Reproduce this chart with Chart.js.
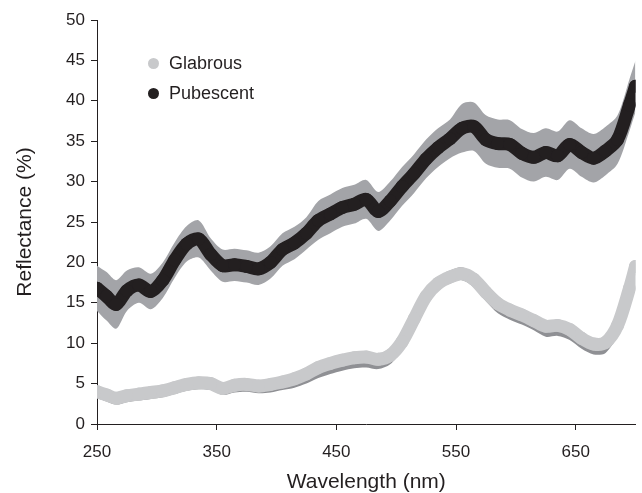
<!DOCTYPE html>
<html lang="en">
<head>
<meta charset="UTF-8">
<title>Reflectance</title>
<script src="https://cdn.jsdelivr.net/npm/chart.js"></script>
<style>
  body { margin: 0; background: #fff; font-family: 'Liberation Sans', Arial, sans-serif; }
  #wrap { position: relative; width: 642px; height: 493px; }
  .legend { position: absolute; left: 148px; height: 20px; font-size: 18px; color: #231f20; display: flex; align-items: center; }
  .legend span.dot { width: 11px; height: 11px; border-radius: 50%; display: inline-block; margin-right: 10px; }
</style>
</head>
<body>
<div id="wrap">
  <canvas id="chart" width="642" height="493"></canvas>
  <div class="legend" style="top:53px"><span class="dot" style="background:#c8c9cb"></span>Glabrous</div>
  <div class="legend" style="top:83px"><span class="dot" style="background:#231f20"></span>Pubescent</div>
</div>
<script>
// wavelength grid (nm)
const wavelengths = [250, 258, 266, 275, 285, 295, 305, 315, 325, 335, 345, 355, 365, 375, 385, 395,
  405, 415, 425, 435, 445, 455, 465, 475, 485, 495, 505, 515, 525, 535, 545, 555, 565, 575, 585,
  595, 605, 615, 625, 635, 645, 655, 665, 675, 685, 695, 700];

// mean reflectance (%)
const glabrous = [4.0, 3.6, 3.2, 3.5, 3.7, 3.9, 4.1, 4.5, 4.9, 5.1, 5.0, 4.4, 4.8, 4.9, 4.7, 4.9,
  5.2, 5.6, 6.2, 7.0, 7.5, 7.9, 8.2, 8.3, 8.0, 8.5, 10.2, 13.0, 15.8, 17.4, 18.2, 18.6, 17.9, 16.3, 14.9,
  14.1, 13.5, 12.8, 12.1, 12.2, 11.7, 10.6, 9.9, 10.1, 12.2, 16.8, 19.5];
const pubescent = [16.8, 15.8, 14.8, 16.5, 17.2, 16.4, 17.8, 20.3, 22.3, 22.9, 21.0, 19.6, 19.7, 19.5, 19.2, 20.0,
  21.6, 22.4, 23.6, 25.2, 26.0, 26.8, 27.2, 27.8, 26.3, 27.6, 29.4, 31.0, 32.8, 34.2, 35.3, 36.6, 36.8, 35.2, 34.7,
  34.6, 33.5, 33.0, 33.6, 33.2, 34.6, 33.6, 32.9, 33.8, 35.2, 39.5, 41.8];

// spread of the shaded bands (above / below the mean)
const glabrousUp = [0.4, 0.4, 0.4, 0.4, 0.4, 0.4, 0.4, 0.4, 0.4, 0.4, 0.4, 0.4, 0.4, 0.4, 0.4, 0.4,
  0.4, 0.4, 0.4, 0.4, 0.4, 0.4, 0.4, 0.4, 0.4, 0.4, 0.4, 0.5, 0.6, 0.7, 0.8, 0.8, 0.6, 0.5, 0.5,
  0.5, 0.5, 0.5, 0.5, 0.6, 0.6, 0.7, 0.7, 0.7, 0.6, 0.6, 0.6];
const glabrousDown = [0.8, 0.8, 0.8, 0.8, 0.8, 0.8, 0.8, 0.8, 0.8, 0.8, 0.8, 0.8, 0.9, 0.9, 0.9, 1.0,
  1.0, 1.1, 1.2, 1.3, 1.3, 1.3, 1.3, 1.3, 1.2, 1.1, 1.0, 0.9, 0.9, 0.8, 0.8, 0.8, 1.0, 1.1, 1.2,
  1.2, 1.2, 1.2, 1.3, 1.3, 1.3, 1.3, 1.3, 1.3, 1.2, 1.0, 1.0];
const pubescentErr = [2.8, 3.0, 3.0, 2.5, 2.2, 2.2, 2.2, 2.2, 2.2, 2.3, 2.0, 2.0, 2.0, 2.0, 2.0, 2.0,
  2.0, 2.0, 2.0, 2.4, 2.4, 2.4, 2.4, 2.4, 2.4, 2.4, 2.4, 2.4, 2.4, 2.4, 2.4, 3.0, 3.0, 3.0, 3.0,
  3.0, 3.0, 3.0, 3.0, 3.0, 3.0, 3.0, 3.0, 3.0, 3.0, 3.2, 3.2];

const xTicks = [250, 350, 450, 550, 650];

const ink = '#231f20';
const pts = (vals) => wavelengths.map((w, i) => ({ x: w, y: vals[i] }));
const band = (vals, dev, sign) => wavelengths.map((w, i) => ({ x: w, y: vals[i] + sign * dev[i] }));

function bandSet(data, color, fill) {
  return { data, borderWidth: 0, pointRadius: 0, backgroundColor: color, fill, tension: 0.3, order: 2 };
}
function lineSet(label, data, color) {
  return {
    label, data, borderColor: color, backgroundColor: color, borderWidth: 13,
    borderCapStyle: 'round', borderJoinStyle: 'round', pointRadius: 6.5, pointBorderWidth: 0,
    pointBackgroundColor: color, tension: 0.3, fill: false, order: 0
  };
}

const tickFont = { family: 'Liberation Sans', size: 17 };
const titleFont = { family: 'Liberation Sans', size: 21, lineHeight: 1 };

new Chart(document.getElementById('chart'), {
  type: 'line',
  data: {
    datasets: [
      bandSet(band(pubescent, pubescentErr, 1), '#a3a4a8', false),
      bandSet(band(pubescent, pubescentErr, -1), '#a3a4a8', '-1'),
      bandSet(band(glabrous, glabrousUp, 1), '#8f9094', false),
      bandSet(band(glabrous, glabrousDown, -1), '#8f9094', '-1'),
      lineSet('Glabrous', pts(glabrous), '#c8c9cb'),
      lineSet('Pubescent', pts(pubescent), ink)
    ]
  },
  options: {
    responsive: false,
    animation: false,
    layout: { padding: { left: 0, right: 2, top: 20, bottom: 0 } },
    plugins: {
      legend: { display: false },
      tooltip: { enabled: false },
      filler: { drawTime: 'beforeDatasetsDraw' }
    },
    scales: {
      x: {
        type: 'linear', min: 250, max: 700,
        afterBuildTicks: s => { s.ticks = xTicks.map(v => ({ value: v })); },
        afterFit: s => { s.height = 69; },
        grid: { drawOnChartArea: false, tickLength: 6, color: ink },
        border: { color: ink },
        ticks: { color: ink, font: tickFont, padding: 12, maxRotation: 0 },
        title: { display: true, text: 'Wavelength (nm)', color: ink, font: titleFont,
          padding: { top: 0, bottom: 0 } }
      },
      y: {
        min: 0, max: 50,
        ticks: { stepSize: 5, color: ink, font: tickFont, padding: 6 },
        afterFit: s => { s.width = 97; },
        grid: { drawOnChartArea: false, tickLength: 6, color: ink },
        border: { color: ink },
        title: { display: true, text: 'Reflectance (%)', color: ink, font: titleFont,
          padding: { top: 15, bottom: 0 } }
      }
    }
  }
});
</script>
</body>
</html>
